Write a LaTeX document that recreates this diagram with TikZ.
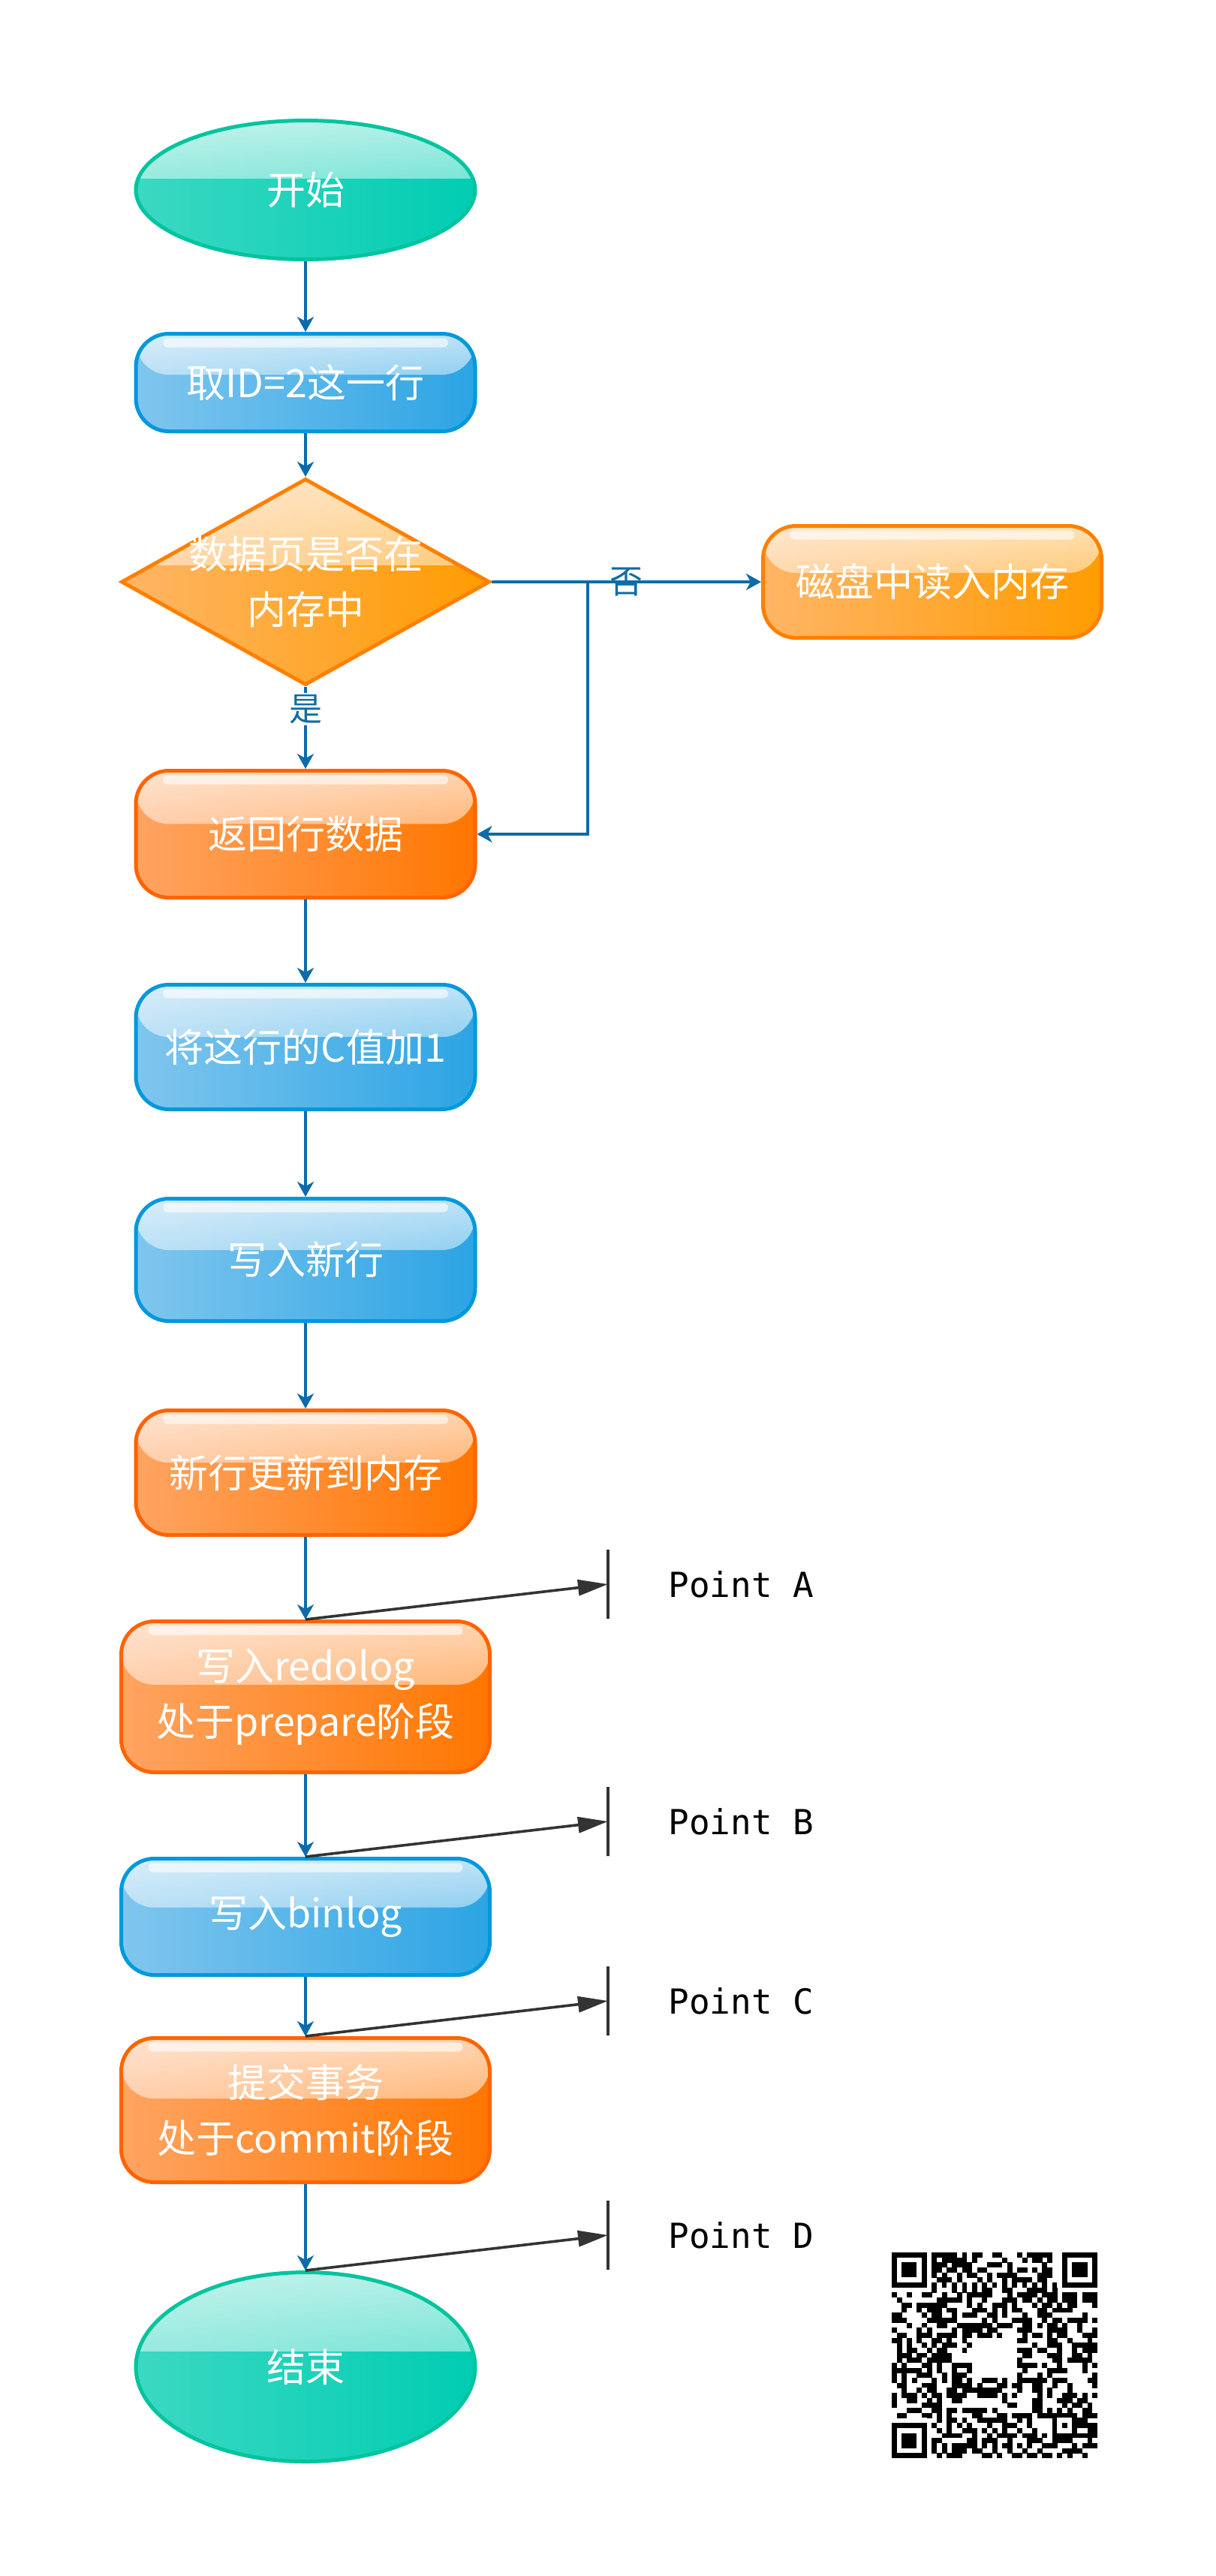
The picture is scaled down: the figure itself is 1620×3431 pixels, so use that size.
\documentclass[tikz,border=0pt]{standalone}
\usepackage{fontspec}
\usepackage{tikz}
\usepackage{xcolor}
\usetikzlibrary{arrows.meta,positioning,shapes.geometric,calc,fadings}
\newfontfamily\cjk{Noto Sans CJK SC}
\newfontfamily\ptmono{DejaVu Sans Mono}
\definecolor{flowB}{HTML}{0E6BA8}
\definecolor{markG}{HTML}{333333}
\definecolor{tealL}{HTML}{3CD8C2}
\definecolor{tealD}{HTML}{00CDB2}
\definecolor{tealE}{HTML}{00C49E}
\definecolor{blueL}{HTML}{80C6EE}
\definecolor{blueD}{HTML}{2CA4E4}
\definecolor{blueE}{HTML}{0098DC}
\definecolor{ambL}{HTML}{FFB566}
\definecolor{ambD}{HTML}{FF9C00}
\definecolor{ambE}{HTML}{FF8000}
\definecolor{rustL}{HTML}{FFA462}
\definecolor{rustD}{HTML}{FF7600}
\definecolor{rustE}{HTML}{FF6400}
\tikzfading[name=glossfade,top color=transparent!30,bottom color=transparent!82]

\begin{document}
\begin{tikzpicture}[x=0.5pt,y=-0.5pt,>={Stealth[length=10pt,width=11pt,inset=3pt]},
    shine/.style={path picture={
      \fill[white,path fading=glossfade] (path picture bounding box.north west)
        rectangle ($(path picture bounding box.north east)!.42!(path picture bounding box.south east)$);}},
    gloss/.style={path picture={
      \fill[white,path fading=glossfade] (path picture bounding box.north west)
        rectangle ($(path picture bounding box.north east)!.42!(path picture bounding box.south east)$);
      \fill[white,opacity=.6,rounded corners=3pt]
        ([xshift=18pt,yshift=-3pt]path picture bounding box.north west) rectangle
        ([xshift=-18pt,yshift=-9pt]path picture bounding box.north east);}},
    base/.style={line width=2.5pt,text=white,align=center,
                 font=\cjk\fontsize{26}{37}\selectfont},
    term/.style={base,shine,ellipse,draw=tealE,left color=tealL,right color=tealD,
                 minimum width=226pt},
    bluebox/.style={base,gloss,rounded corners=22pt,draw=blueE,left color=blueL,
                    right color=blueD,minimum width=226pt},
    rustbox/.style={base,gloss,rounded corners=22pt,draw=rustE,left color=rustL,
                    right color=rustD,minimum width=226pt},
    ambbox/.style={base,gloss,rounded corners=22pt,draw=ambE,left color=ambL,
                   right color=ambD,minimum width=225.5pt},
    decide/.style={base,shine,diamond,draw=ambE,left color=ambL,right color=ambD,
                   inner sep=-25pt,minimum width=245.5pt,minimum height=137.5pt},
    wide/.style={minimum width=245.5pt},
    flow/.style={->,flowB,line width=1.9pt},
    lbl/.style={text=flowB,font=\cjk\fontsize{22}{26}\selectfont,inner sep=1pt},
    pointer/.style={-{Triangle[length=20pt,width=10.5pt]},markG,line width=1.8pt},
    tickmark/.style={draw=markG,line width=2.2pt,minimum width=0pt,
                     minimum height=46pt,inner sep=0pt,outer sep=0pt},
    ptlabel/.style={font=\ptmono\fontsize{23}{28}\selectfont,inner sep=0pt}]
    \useasboundingbox (0,0) rectangle (1620,3431);

    \node[term,minimum height=92.5pt] (start) at (407,253) {开始};
    \node[bluebox,minimum height=65pt,below=47pt of start] (fetch) {取ID=2这一行};
    \node[decide,below=29pt of fetch] (inmem) {数据页是否在\\内存中};
    \node[ambbox,minimum height=74.5pt,right=179.5pt of inmem] (disk) {磁盘中读入内存};
    \node[rustbox,minimum height=84.5pt,below=54.5pt of inmem] (ret) {返回行数据};
    \node[bluebox,minimum height=83pt,below=55.5pt of ret] (incr) {将这行的C值加1};
    \node[bluebox,minimum height=81.5pt,below=57pt of incr] (wrow) {写入新行};
    \node[rustbox,minimum height=83pt,below=57pt of wrow] (upd) {新行更新到内存};
    \node[rustbox,wide,minimum height=100.5pt,below=55pt of upd] (redo) {写入redolog\\处于prepare阶段};
    \node[bluebox,wide,minimum height=77.5pt,below=55pt of redo] (binlog) {写入binlog};
    \node[rustbox,wide,minimum height=96pt,below=39.5pt of binlog] (commit) {提交事务\\处于commit阶段};
    \node[term,minimum height=126pt,below=57.5pt of commit] (stop) {结束};

    \draw[flow] (start) -- (fetch);
    \draw[flow] (fetch) -- (inmem);
    \draw[flow] (inmem) -- node[lbl,fill=white,pos=.27] {是} (ret);
    \draw[flow] (inmem) -- node[lbl] {否} (disk);
    \coordinate (split) at ($(inmem.east)!.357!(disk.west)$);
    \draw[flow] (split) |- (ret);
    \draw[flow] (ret) -- (incr);
    \draw[flow] (incr) -- (wrow);
    \draw[flow] (wrow) -- (upd);
    \draw[flow] (upd) -- (redo);
    \draw[flow] (redo) -- (binlog);
    \draw[flow] (binlog) -- (commit);
    \draw[flow] (commit) -- (stop);

    % commit points
    \path (redo.north) ++(403,-47) node[tickmark] (tA) {};
    \node[ptlabel,right=40pt of tA] (lA) {Point A};
    \draw[pointer] (redo.north) -- (tA.west);
    \path (binlog.north) ++(403,-47) node[tickmark] (tB) {};
    \node[ptlabel,right=40pt of tB] (lB) {Point B};
    \draw[pointer] (binlog.north) -- (tB.west);
    \path (commit.north) ++(403,-47) node[tickmark] (tC) {};
    \node[ptlabel,right=40pt of tC] (lC) {Point C};
    \draw[pointer] (commit.north) -- (tC.west);
    \path (stop.north) ++(403,-47) node[tickmark] (tD) {};
    \node[ptlabel,right=40pt of tD] (lD) {Point D};
    \draw[pointer] (stop.north) -- (tD.west);

    % qr code
    \begin{scope}[shift={(1188,3000)},x=3.34pt,y=-3.34pt]
      \pgfmathsetseed{1620}
      \foreach \i in {0,...,40}{\foreach \j in {0,...,40}{
        \pgfmathtruncatemacro\qrbit{((\i<8&&\j<8)||(\i>32&&\j<8)||(\i<8&&\j>32)||(\i>15&&\i<25&&\j>16&&\j<25)||\i==6||\j==6||(\i>31&&\i<37&&\j>31&&\j<37)) ? 0 : (rnd<.5 ? 1 : 0)}
        \ifnum\qrbit=1 \fill (\i,\j) rectangle ++(1.04,1.04);\fi}}
      \foreach \k in {8,10,...,32}{\fill (\k,6) rectangle ++(1,1); \fill (6,\k) rectangle ++(1,1);}
      \foreach \cx/\cy in {0/0,34/0,0/34}{
        \fill (\cx,\cy) rectangle ++(7,7);
        \fill[white] (\cx+1,\cy+1) rectangle ++(5,5);
        \fill (\cx+2,\cy+2) rectangle ++(3,3);}
      \fill (32,32) rectangle ++(5,5);
      \fill[white] (33,33) rectangle ++(3,3);
      \fill (34,34) rectangle ++(1,1);
    \end{scope}
\end{tikzpicture}
\end{document}
